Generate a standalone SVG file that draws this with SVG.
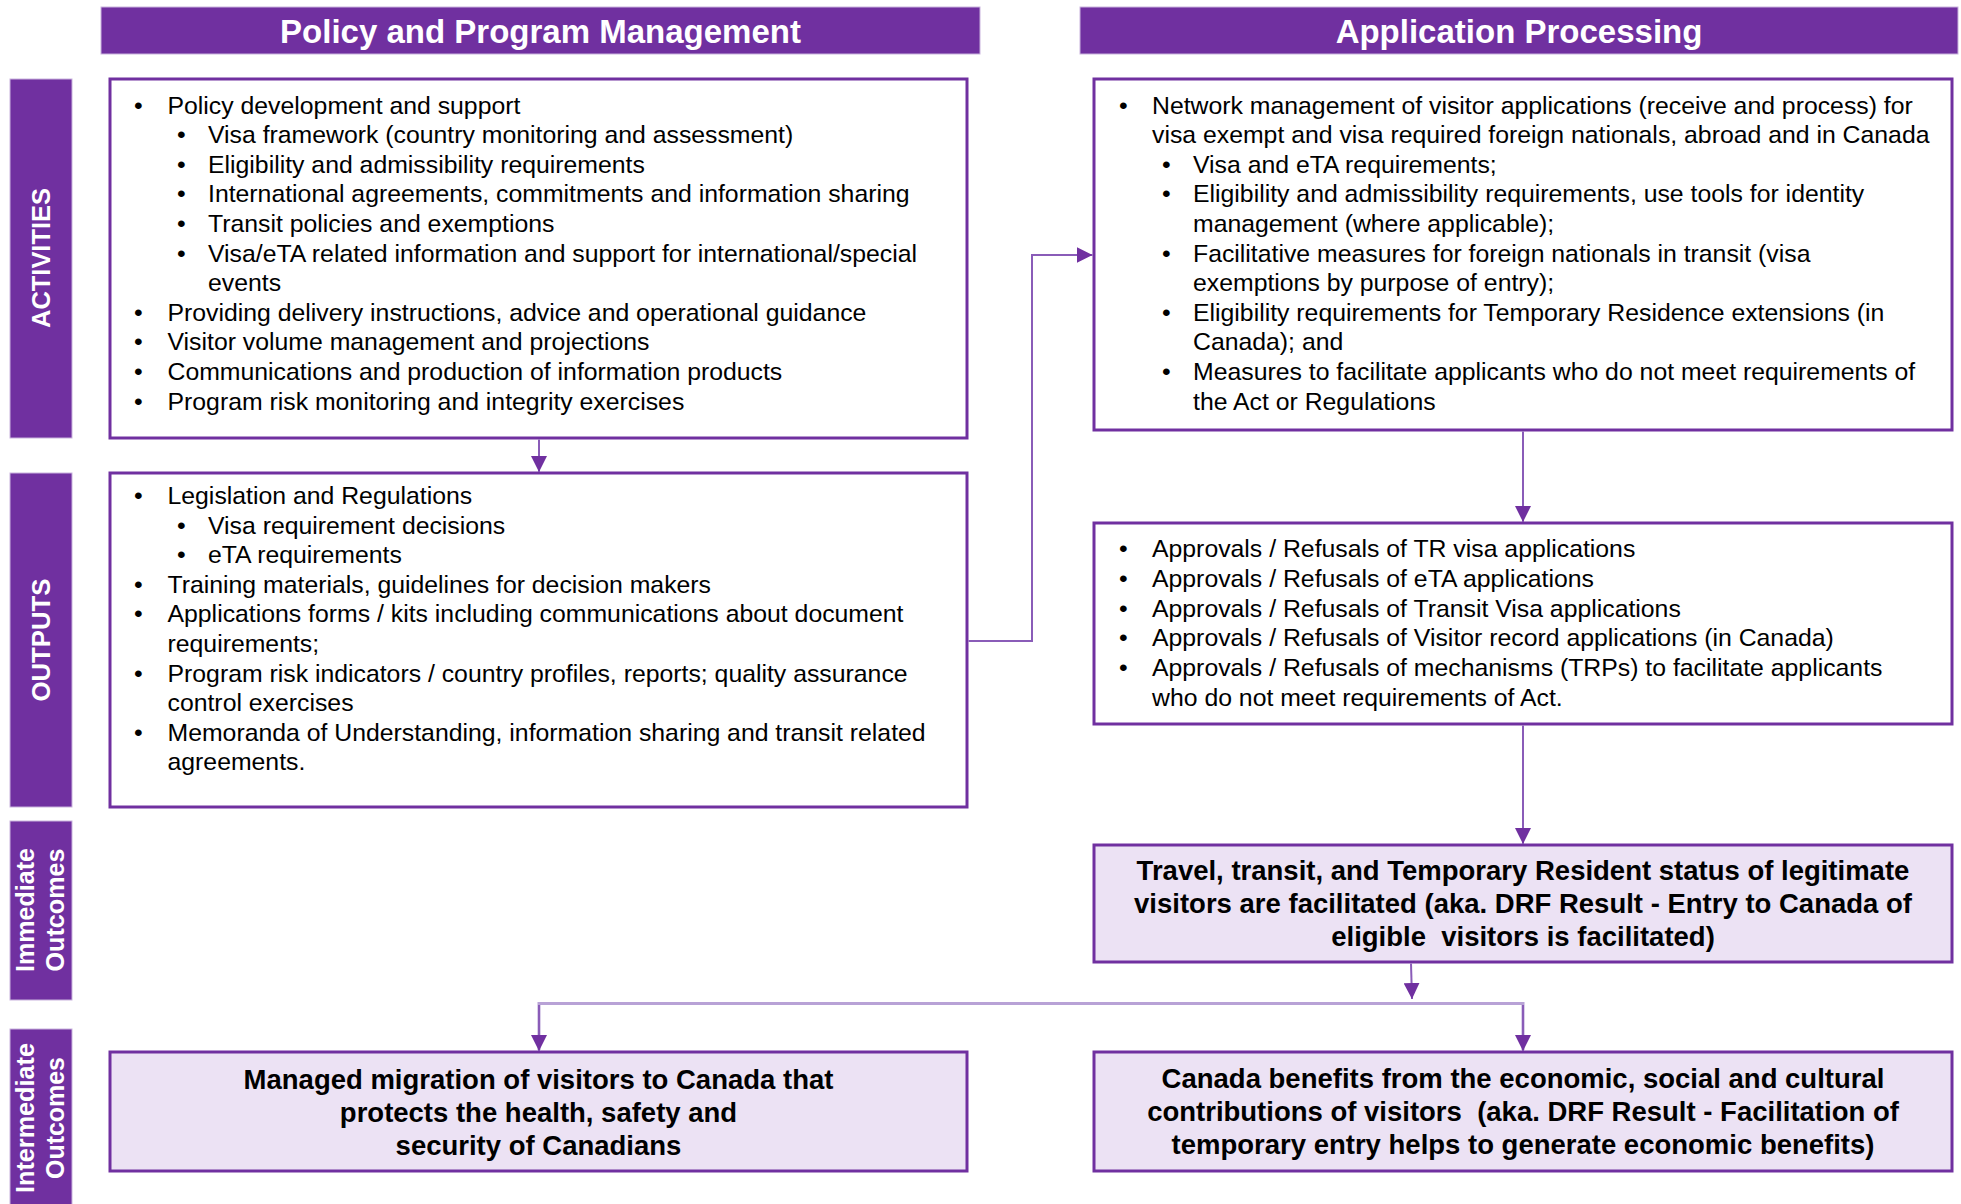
<svg xmlns="http://www.w3.org/2000/svg" width="1961" height="1204" viewBox="0 0 1961 1204">
<defs>
<style>
.hdr{fill:#7030A0;stroke:#C9B3DD;stroke-width:1}
.hdrt{font-family:"Liberation Sans",Arial,sans-serif;font-weight:bold;font-size:33px;fill:#FFFFFF;text-anchor:middle}
.side{fill:#7030A0;stroke:#C9B3DD;stroke-width:1}
.sidet{font-family:"Liberation Sans",Arial,sans-serif;font-weight:bold;font-size:25px;fill:#FFFFFF;text-anchor:middle}
.box{fill:#FFFFFF;stroke:#7030A0;stroke-width:3}
.obox{fill:#ECE2F4;stroke:#7030A0;stroke-width:3}
.t{font-family:"Liberation Sans",Arial,sans-serif;font-size:24.8px;fill:#000000}
.b{font-family:"Liberation Sans",Arial,sans-serif;font-weight:bold;font-size:27.5px;fill:#000000;text-anchor:middle}
.conn{fill:none;stroke:#8A5CB8;stroke-width:2}
.connl{fill:none;stroke:#B8A2D6;stroke-width:3}
</style>
<marker id="arr" markerUnits="userSpaceOnUse" markerWidth="16" markerHeight="16" refX="16" refY="8" orient="auto">
<path d="M0,0 L16,8 L0,16 Z" fill="#7030A0"/>
</marker>
</defs>
<rect width="1961" height="1204" fill="#FFFFFF"/>

<g id="header-policy">
<rect class="hdr" x="101" y="7" width="879" height="47"/>
<text class="hdrt" x="540.5" y="43">Policy and Program Management</text>
</g>
<g id="header-application">
<rect class="hdr" x="1080" y="7" width="878" height="47"/>
<text class="hdrt" x="1519" y="43">Application Processing</text>
</g>

<g id="label-activities">
<rect class="side" x="10" y="79" width="62" height="359"/>
<text class="sidet" transform="translate(50,258) rotate(-90)" textLength="140" lengthAdjust="spacingAndGlyphs">ACTIVITIES</text>
</g>
<g id="label-outputs">
<rect class="side" x="10" y="473" width="62" height="334"/>
<text class="sidet" transform="translate(50,640) rotate(-90)" textLength="123" lengthAdjust="spacingAndGlyphs">OUTPUTS</text>
</g>
<g id="label-immediate">
<rect class="side" x="10" y="821" width="62" height="179"/>
<text class="sidet" transform="translate(34,910) rotate(-90)" textLength="124" lengthAdjust="spacingAndGlyphs">Immediate</text>
<text class="sidet" transform="translate(64,910) rotate(-90)" textLength="123" lengthAdjust="spacingAndGlyphs">Outcomes</text>
</g>
<g id="label-intermediate">
<rect class="side" x="10" y="1029" width="62" height="180"/>
<text class="sidet" transform="translate(34,1118) rotate(-90)" textLength="150" lengthAdjust="spacingAndGlyphs">Intermediate</text>
<text class="sidet" transform="translate(64,1118) rotate(-90)" textLength="122" lengthAdjust="spacingAndGlyphs">Outcomes</text>
</g>

<g id="activities-policy">
<rect class="box" x="110" y="79" width="857" height="359"/>
<g class="t">
<text x="134" y="113.5">•</text><text x="167.5" y="113.5">Policy development and support</text>
<text x="177" y="143.1">•</text><text x="208" y="143.1">Visa framework (country monitoring and assessment)</text>
<text x="177" y="172.7">•</text><text x="208" y="172.7">Eligibility and admissibility requirements</text>
<text x="177" y="202.3">•</text><text x="208" y="202.3">International agreements, commitments and information sharing</text>
<text x="177" y="231.9">•</text><text x="208" y="231.9">Transit policies and exemptions</text>
<text x="177" y="261.5">•</text><text x="208" y="261.5">Visa/eTA related information and support for international/special</text>
<text x="208" y="291.1">events</text>
<text x="134" y="320.7">•</text><text x="167.5" y="320.7">Providing delivery instructions, advice and operational guidance</text>
<text x="134" y="350.3">•</text><text x="167.5" y="350.3">Visitor volume management and projections</text>
<text x="134" y="379.9">•</text><text x="167.5" y="379.9">Communications and production of information products</text>
<text x="134" y="409.5">•</text><text x="167.5" y="409.5">Program risk monitoring and integrity exercises</text>
</g>
</g>

<g id="activities-application">
<rect class="box" x="1094" y="79" width="858" height="351"/>
<g class="t">
<text x="1119" y="113.5">•</text><text x="1152" y="113.5">Network management of visitor applications (receive and process) for</text>
<text x="1152" y="143.1">visa exempt and visa required foreign nationals, abroad and in Canada</text>
<text x="1162" y="172.7">•</text><text x="1193" y="172.7">Visa and eTA requirements;</text>
<text x="1162" y="202.3">•</text><text x="1193" y="202.3">Eligibility and admissibility requirements, use tools for identity</text>
<text x="1193" y="231.9">management (where applicable);</text>
<text x="1162" y="261.5">•</text><text x="1193" y="261.5">Facilitative measures for foreign nationals in transit (visa</text>
<text x="1193" y="291.1">exemptions by purpose of entry);</text>
<text x="1162" y="320.7">•</text><text x="1193" y="320.7">Eligibility requirements for Temporary Residence extensions (in</text>
<text x="1193" y="350.3">Canada); and</text>
<text x="1162" y="379.9">•</text><text x="1193" y="379.9">Measures to facilitate applicants who do not meet requirements of</text>
<text x="1193" y="409.5">the Act or Regulations</text>
</g>
</g>

<g id="outputs-policy">
<rect class="box" x="110" y="473" width="857" height="334"/>
<g class="t">
<text x="134" y="504">•</text><text x="167.5" y="504">Legislation and Regulations</text>
<text x="177" y="533.6">•</text><text x="208" y="533.6">Visa requirement decisions</text>
<text x="177" y="563.2">•</text><text x="208" y="563.2">eTA requirements</text>
<text x="134" y="592.8">•</text><text x="167.5" y="592.8">Training materials, guidelines for decision makers</text>
<text x="134" y="622.4">•</text><text x="167.5" y="622.4">Applications forms / kits including communications about document</text>
<text x="167.5" y="652">requirements;</text>
<text x="134" y="681.6">•</text><text x="167.5" y="681.6">Program risk indicators / country profiles, reports; quality assurance</text>
<text x="167.5" y="711.2">control exercises</text>
<text x="134" y="740.8">•</text><text x="167.5" y="740.8">Memoranda of Understanding, information sharing and transit related</text>
<text x="167.5" y="770.4">agreements.</text>
</g>
</g>

<g id="outputs-application">
<rect class="box" x="1094" y="523" width="858" height="201"/>
<g class="t">
<text x="1119" y="557">•</text><text x="1152" y="557">Approvals / Refusals of TR visa applications</text>
<text x="1119" y="586.8">•</text><text x="1152" y="586.8">Approvals / Refusals of eTA applications</text>
<text x="1119" y="616.6">•</text><text x="1152" y="616.6">Approvals / Refusals of Transit Visa applications</text>
<text x="1119" y="646.4">•</text><text x="1152" y="646.4">Approvals / Refusals of Visitor record applications (in Canada)</text>
<text x="1119" y="676.2">•</text><text x="1152" y="676.2">Approvals / Refusals of mechanisms (TRPs) to facilitate applicants</text>
<text x="1152" y="706">who do not meet requirements of Act.</text>
</g>
</g>

<g id="immediate-outcome">
<rect class="obox" x="1094" y="845" width="858" height="117"/>
<text class="b" x="1523" y="879.5">Travel, transit, and Temporary Resident status of legitimate</text>
<text class="b" x="1523" y="912.5">visitors are facilitated (aka. DRF Result - Entry to Canada of</text>
<text class="b" x="1523" y="945.5" xml:space="preserve">eligible  visitors is facilitated)</text>
</g>

<g id="intermediate-managed">
<rect class="obox" x="110" y="1052" width="857" height="119"/>
<text class="b" x="538.5" y="1088.5">Managed migration of visitors to Canada that</text>
<text class="b" x="538.5" y="1121.5">protects the health, safety and</text>
<text class="b" x="538.5" y="1154.5">security of Canadians</text>
</g>

<g id="intermediate-benefits">
<rect class="obox" x="1094" y="1052" width="858" height="119"/>
<text class="b" x="1523" y="1088">Canada benefits from the economic, social and cultural</text>
<text class="b" x="1523" y="1121" xml:space="preserve">contributions of visitors  (aka. DRF Result - Facilitation of</text>
<text class="b" x="1523" y="1154">temporary entry helps to generate economic benefits)</text>
</g>

<g id="connectors">
<path class="conn" d="M539,439.5 L539,472" marker-end="url(#arr)"/>
<path class="conn" d="M968.5,641 L1032,641 L1032,255 L1092.5,255" marker-end="url(#arr)"/>
<path class="conn" d="M1523,431.5 L1523,522" marker-end="url(#arr)"/>
<path class="conn" d="M1523,725.5 L1523,844" marker-end="url(#arr)"/>
<path class="conn" d="M1411,963.5 L1412,999" marker-end="url(#arr)"/>
<path class="connl" d="M539,1050.5 L539,1003.5 L1523,1003.5 L1523,1050.5"/>
<path class="conn" d="M539,1005 L539,1051" marker-end="url(#arr)"/>
<path class="conn" d="M1523,1005 L1523,1051" marker-end="url(#arr)"/>
</g>
</svg>
